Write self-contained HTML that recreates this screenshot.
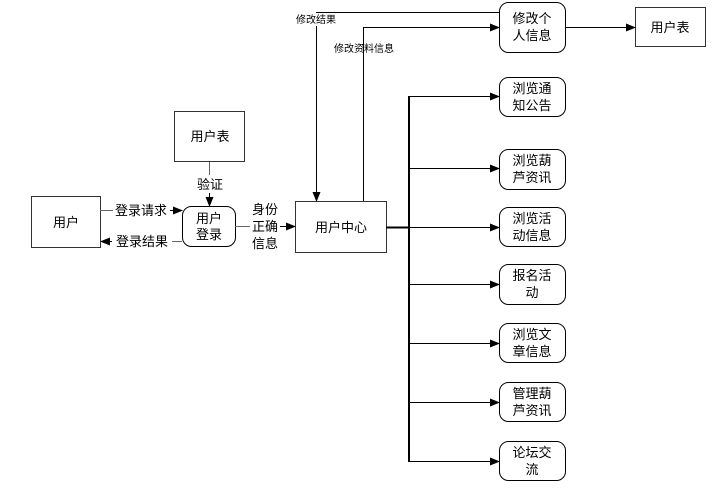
<!DOCTYPE html>
<html><head><meta charset="utf-8"><style>
html,body{margin:0;padding:0;background:#fff;}
svg{display:block;}
text{font-family:"Liberation Sans","Noto Sans CJK SC",sans-serif;fill:#000;}
</style></head><body>
<svg width="726" height="492" viewBox="0 0 726 492" xmlns="http://www.w3.org/2000/svg">
<defs>
<marker id="a" markerWidth="10" markerHeight="8" refX="9" refY="4" orient="auto" markerUnits="userSpaceOnUse">
<path d="M0,0 L10,4 L0,8 Z" fill="#000"/></marker>
</defs>
<g fill="none" stroke="#000" stroke-width="1">
<rect x="31.5" y="196.5" width="69" height="51" stroke="#333"/>
<rect x="174.5" y="111.5" width="70" height="50" stroke="#333"/>
<rect x="182.5" y="206.5" width="53" height="40" rx="9"/>
<rect x="295.5" y="201.5" width="91" height="51" stroke="#333"/>
<rect x="635.5" y="7.5" width="70" height="39" stroke="#333"/>
<rect x="499.5" y="2.5" width="66" height="50" rx="9"/>
<rect x="499.5" y="77.5" width="66" height="39" rx="9"/>
<rect x="499.5" y="149.5" width="66" height="40" rx="9"/>
<rect x="499.5" y="207.5" width="66" height="39" rx="9"/>
<rect x="499.5" y="264.5" width="66" height="40" rx="9"/>
<rect x="499.5" y="323.5" width="66" height="39" rx="9"/>
<rect x="499.5" y="382.5" width="66" height="39" rx="9"/>
<rect x="499.5" y="441.5" width="66" height="39" rx="9"/>
</g>
<g fill="none" stroke="#000" stroke-width="1">
<path d="M100,210.5 H113" stroke="#666"/>
<path d="M170,210.5 H182" marker-end="url(#a)"/>
<path d="M182,241.5 H172" stroke="#666"/>
<path d="M112,241.5 H101" marker-end="url(#a)"/>
<path d="M209.5,162 V175" stroke="#666"/>
<path d="M209.5,193 V206" marker-end="url(#a)"/>
<path d="M235,226.5 H250" stroke="#666"/>
<path d="M280,226.5 H295" marker-end="url(#a)"/>
<path d="M499,12.5 H316.5 V201" marker-end="url(#a)"/>
<path d="M363.5,201 V27.5 H499" marker-end="url(#a)"/>
<path d="M565,27.5 H635" marker-end="url(#a)"/>
<path d="M386,227.5 H409" stroke-width="2"/>
<path d="M409,96 V462" stroke-width="2"/>
<path d="M409,96.5 H499" marker-end="url(#a)"/>
<path d="M409,168.5 H499" marker-end="url(#a)"/>
<path d="M409,227.5 H499" marker-end="url(#a)"/>
<path d="M409,284.5 H499" marker-end="url(#a)"/>
<path d="M409,343.5 H499" marker-end="url(#a)"/>
<path d="M409,402.5 H499" marker-end="url(#a)"/>
<path d="M409,461.5 H499" marker-end="url(#a)"/>
</g>
<g font-size="13" text-anchor="middle">
<text x="66" y="227">用户</text>
<text x="210" y="141">用户表</text>
<text x="209" y="223">用户</text>
<text x="209" y="239">登录</text>
<text x="341" y="232">用户中心</text>
<text x="670" y="32">用户表</text>
<text x="532" y="23">修改个</text><text x="532" y="40">人信息</text>
<text x="532" y="93">浏览通</text><text x="532" y="110">知公告</text>
<text x="532" y="165">浏览葫</text><text x="532" y="182">芦资讯</text>
<text x="532" y="223">浏览活</text><text x="532" y="240">动信息</text>
<text x="532" y="280">报名活</text><text x="532" y="297">动</text>
<text x="532" y="339">浏览文</text><text x="532" y="356">章信息</text>
<text x="532" y="398">管理葫</text><text x="532" y="415">芦资讯</text>
<text x="532" y="457">论坛交</text><text x="532" y="474">流</text>
<text x="141" y="215" fill="#333">登录请求</text>
<text x="142" y="246" fill="#333">登录结果</text>
<text x="210" y="189">验证</text>
<text x="265" y="214">身份</text>
<text x="265" y="231">正确</text>
<text x="265" y="248">信息</text>
</g>
<g font-size="10" text-anchor="middle">
<rect x="292" y="13" width="48" height="13" fill="#fff"/>
<text x="316" y="23">修改结果</text>
<text x="364" y="52">修改资料信息</text>
</g>
</svg>
</body></html>
